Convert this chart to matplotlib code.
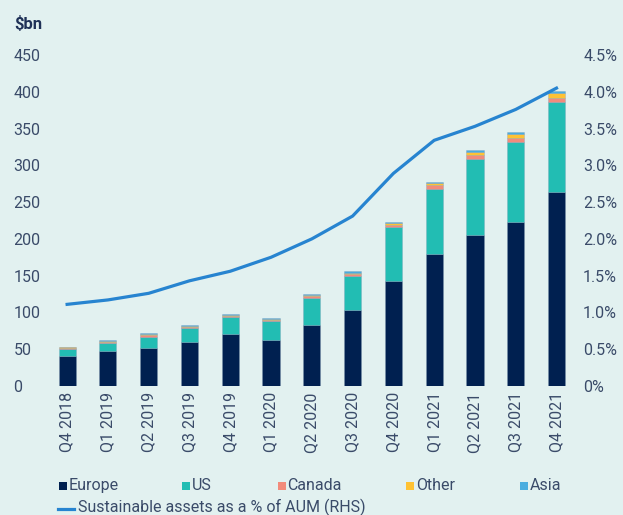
import numpy as np
import matplotlib
matplotlib.use("Agg")
import matplotlib.pyplot as plt
from matplotlib.patches import Rectangle
from matplotlib.lines import Line2D

quarters = ["Q4 2018", "Q1 2019", "Q2 2019", "Q3 2019", "Q4 2019", "Q1 2020", "Q2 2020",
            "Q3 2020", "Q4 2020", "Q1 2021", "Q2 2021", "Q3 2021", "Q4 2021"]
europe = [41, 47, 51, 60, 71, 63, 83, 103, 143, 179, 205, 223, 264]
us = [9, 12, 16, 19, 23, 25, 37, 47, 73, 89, 103, 109, 122]
canada = [2, 1, 2, 1, 1.5, 2, 2, 2, 3, 5.5, 6.5, 5.5, 5.5]
other = [0.5, 1, 2, 1, 1.5, 1, 2, 2, 2, 2, 3.5, 5.5, 6.5]
asia = [1, 1, 1, 1.5, 1, 1, 1.5, 2, 2, 2, 2.5, 2.5, 3]
pct_aum = [1.11, 1.17, 1.26, 1.43, 1.56, 1.75, 2.00, 2.31, 2.89, 3.34, 3.53, 3.76, 4.05]

series = [("Europe", europe, "#002050"), ("US", us, "#22bdb3"), ("Canada", canada, "#f28b7b"),
          ("Other", other, "#ffc233"), ("Asia", asia, "#4aaddf")]

bg = "#e2f1f0"
txt = "#3a4b69"
plt.rcParams['font.family'] = ['Roboto', 'DejaVu Sans']

fig = plt.figure(figsize=(6.23, 5.15), dpi=100, facecolor=bg)
ax = fig.add_axes([0.075, 0.2505, 0.851, 0.6427])
ax.set_facecolor(bg)

x = np.arange(len(quarters))
bottom = np.zeros(len(quarters))
for name, vals, col in series:
    ax.bar(x, vals, 0.42, bottom=bottom, color=col, edgecolor=(0.5, 0.6, 0.7, 0.35), linewidth=0.6)
    bottom += np.array(vals)

ax.set_ylim(0, 450)
ax.set_xlim(-0.5, len(quarters) - 0.5)
ax.set_yticks(range(0, 451, 50))
ax.set_xticks(x)
ax.set_xticklabels(quarters, rotation=90)
ax.tick_params(length=0, labelsize=11.5, labelcolor=txt)
ax.tick_params(axis='y', pad=24)
ax.tick_params(axis='x', pad=4.5)
for lab in ax.get_yticklabels():
    lab.set_horizontalalignment('left')
for s in ax.spines.values():
    s.set_visible(False)

ax2 = ax.twinx()
ax2.plot(x, pct_aum, color="#2784d0", linewidth=2.3)
ax2.set_ylim(0, 4.5)
ax2.set_yticks(np.arange(0, 4.51, 0.5))
ax2.set_yticklabels(["0%"] + [f"{v:.1f}%" for v in np.arange(0.5, 4.51, 0.5)])
ax2.tick_params(length=0, labelsize=11.5, labelcolor=txt, pad=4.5)
for s in ax2.spines.values():
    s.set_visible(False)

fig.text(0.0225, 0.953, "$bn", fontsize=12, fontweight='bold', color="#1f3157", va='center')

# legend
leg_x = [0.0947, 0.292, 0.446, 0.652, 0.835]
for (name, vals, col), lx in zip(series, leg_x):
    fig.add_artist(Rectangle((lx, 0.0485), 0.0125, 0.0155, transform=fig.transFigure,
                             facecolor=col, edgecolor='none'))
    fig.text(lx + 0.0155, 0.057, name, fontsize=11.5, color=txt, va='center')
fig.add_artist(Line2D([0.0925, 0.118], [0.0117, 0.0117], transform=fig.transFigure,
                      color="#2784d0", linewidth=2.3))
fig.text(0.125, 0.014, "Sustainable assets as a % of AUM (RHS)", fontsize=11.5, color=txt, va='center')

fig.savefig("out.png", dpi=100, facecolor=bg)
